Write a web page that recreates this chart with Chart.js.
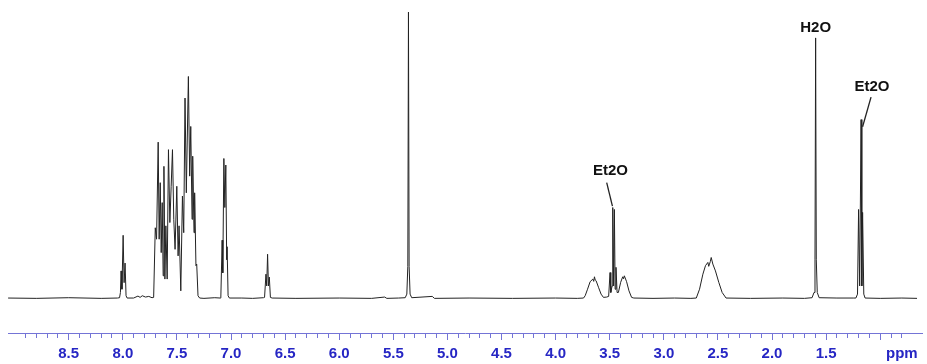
<!DOCTYPE html>
<html>
<head>
<meta charset="utf-8">
<script src="https://cdn.jsdelivr.net/npm/chart.js@4"></script>
<style>
  body { margin: 0; background: #fff; }
  #wrap { width: 927px; height: 364px; }
</style>
</head>
<body>
<div id="wrap"><canvas id="nmr-chart"></canvas></div>
<script>
// spectrum, [ppm, intensity] pairs, going from left to right
let aromatic = [
  [9.06, 0.3], [8.8, 0.2], [8.5, 0.4], [8.2, 0.2], [8.05, 0.3],
  [8.03, 0.4], [8.022, 2], [8.016, 8.6], [8.008, 3], [7.997, 19.5], [7.988, 5], [7.979, 11], [7.970, 1], [7.96, 0.3],
  [7.90, 0.3], [7.86, 0.9], [7.84, 0.5], [7.82, 1.0], [7.79, 0.6], [7.76, 0.8], [7.73, 0.4],
  [7.715, 0.5], [7.700, 21.8], [7.688, 18.3], [7.673, 48.0], [7.664, 18.3], [7.654, 35.6], [7.645, 14.2],
  [7.636, 29.5], [7.627, 7.1], [7.620, 40.6], [7.611, 6.1], [7.602, 22.4], [7.590, 6.1], [7.578, 45.7],
  [7.565, 23.4], [7.553, 34.5], [7.541, 45.7], [7.529, 24.4], [7.517, 15.2], [7.501, 34.5], [7.489, 13.2],
  [7.480, 22.4], [7.464, 2.5], [7.449, 31.5], [7.437, 20.3], [7.425, 61.5], [7.413, 32.5], [7.394, 68.1],
  [7.382, 37.6], [7.372, 52.8], [7.360, 24.4], [7.354, 43.7], [7.342, 20.3], [7.336, 32.5], [7.324, 10.2],
  [7.317, 10.7], [7.305, 1.0], [7.29, 0.3],
  [7.25, 0.2], [7.15, 0.4], [7.10, 0.3],
  [7.094, 0.5], [7.082, 18], [7.076, 8], [7.066, 43], [7.057, 28], [7.048, 41], [7.040, 12], [7.036, 16],
  [7.027, 1], [7.015, 0.3],
  [6.9, 0.3], [6.8, 0.2], [6.70, 0.4],
  [6.69, 0.5], [6.677, 7.6], [6.670, 4], [6.662, 13.7], [6.654, 4], [6.646, 6.7], [6.636, 0.5], [6.62, 0.3]
]

let middle = [
  [6.4, 0.2], [6.0, 0.3], [5.7, 0.2], [5.58, 0.6], [5.56, 0.2], [5.45, 0.3],
  [5.39, 0.4], [5.375, 1.5], [5.366, 10], [5.360, 87.8], [5.354, 10], [5.345, 1.5], [5.33, 0.4],
  [5.14, 0.8], [5.12, 0.2],
  [4.8, 0.3], [4.4, 0.2], [4.0, 0.3], [3.8, 0.2]
]

let ether = [
  [3.742, 0.3], [3.727, 1.0], [3.705, 3.0], [3.681, 5.3], [3.656, 6.1], [3.648, 5.4], [3.641, 6.8],
  [3.634, 5.8], [3.626, 5.6], [3.604, 3.6], [3.580, 1.5], [3.558, 0.5], [3.528, 0.6],
  [3.510, 0.8], [3.497, 8.1], [3.490, 2], [3.478, 4], [3.472, 28.0], [3.464, 4], [3.457, 27.4],
  [3.450, 3], [3.442, 9.7], [3.432, 2],
  [3.420, 2.0], [3.399, 5.1], [3.380, 6.8], [3.372, 6.2], [3.365, 7.1], [3.344, 5.3], [3.322, 2.5],
  [3.298, 0.5], [3.277, 0.3],
  [3.1, 0.2], [2.9, 0.3], [2.75, 0.2]
]

let aliphatic = [
  [2.700, 0.3], [2.670, 3.0], [2.639, 7.6], [2.615, 10.2], [2.593, 11.2], [2.585, 10.0], [2.578, 10.7],
  [2.570, 11.5], [2.562, 12.7], [2.547, 10.7], [2.523, 8.6], [2.492, 5.1], [2.461, 2.0], [2.425, 0.3],
  [2.2, 0.2], [1.9, 0.3], [1.7, 0.2],
  [1.63, 0.4], [1.612, 2], [1.603, 12], [1.597, 79.9], [1.591, 12], [1.582, 2], [1.565, 0.4],
  [1.4, 0.3], [1.25, 0.3],
  [1.225, 0.3], [1.210, 1.5], [1.200, 27.4], [1.190, 4], [1.177, 54.9], [1.170, 4], [1.163, 26.5],
  [1.152, 1.5], [1.14, 0.3],
  [1.0, 0.2], [0.8, 0.3], [0.66, 0.2]
]

// peak labels and their leader lines
let labelText = ["H2O", "Et2O", "Et2O"]
let labelPpm = [1.597, 1.076, 3.493]
let labelInt = [82.9, 64.8, 39.1]
let leaderFrom = [null, [1.085, 61.8], [3.528, 35.6]]
let leaderTo = [null, [1.163, 52.7], [3.475, 28.4]]

let ppmMin = 0.614
let ppmMax = 9.061

let spectrum = []
aromatic.concat(middle, ether, aliphatic).forEach(function(p){
  spectrum.push({x: p[0], y: p[1]})
})

function isStep(v, step){
  let q = v / step
  return Math.abs(q - Math.round(q)) < 1e-6
}

let peakLabels = {
  id: 'peakLabels',
  afterDatasetsDraw(chart){
    let ctx = chart.ctx
    let xs = chart.scales.x
    let ys = chart.scales.y
    ctx.save()
    ctx.fillStyle = '#111'
    ctx.strokeStyle = '#222'
    ctx.lineWidth = 1.3
    ctx.font = 'bold 15px "Liberation Sans", Arial, sans-serif'
    ctx.textAlign = 'center'
    ctx.textBaseline = 'middle'
    labelText.forEach(function(t, i){
      ctx.fillText(t, xs.getPixelForValue(labelPpm[i]), ys.getPixelForValue(labelInt[i]))
      if(leaderFrom[i]){
        ctx.beginPath()
        ctx.moveTo(xs.getPixelForValue(leaderFrom[i][0]), ys.getPixelForValue(leaderFrom[i][1]))
        ctx.lineTo(xs.getPixelForValue(leaderTo[i][0]), ys.getPixelForValue(leaderTo[i][1]))
        ctx.stroke()
      }
    })
    ctx.restore()
  }
}

let axisBlue = '#7474d6'

new Chart(document.getElementById("nmr-chart"), {
  type: 'line',
  data: {
    datasets: [{
      data: spectrum,
      borderColor: '#222',
      borderWidth: 1,
      pointRadius: 0,
      tension: 0,
      fill: false
    }]
  },
  options: {
    responsive: true,
    maintainAspectRatio: false,
    animation: false,
    layout: { padding: { left: 8, right: 0, top: 0, bottom: -4 } },
    plugins: { legend: { display: false }, tooltip: { enabled: false } },
    scales: {
      x: {
        type: 'linear',
        reverse: true,
        min: ppmMin,
        max: ppmMax,
        border: { color: axisBlue, width: 1 },
        grid: {
          drawOnChartArea: false,
          drawTicks: true,
          tickLength: 7,
          tickWidth: 1,
          tickColor: function(c){
            if(!c.tick || !isStep(c.tick.value, 0.1)) return 'rgba(0,0,0,0)'
            return axisBlue
          },
          tickBorderDash: function(c){
            if(c.tick && isStep(c.tick.value, 0.5)) return []
            return [4, 100]
          }
        },
        ticks: {
          stepSize: 0.1,
          autoSkip: false,
          maxRotation: 0,
          minRotation: 0,
          padding: 5,
          color: '#2626c4',
          font: { family: '"Liberation Sans", Arial, sans-serif', size: 15, weight: 'bold' },
          callback: function(v){
            let r = Math.round(v * 10) / 10
            if(Math.abs(r - 0.8) < 1e-6) return 'ppm'
            if(r >= 1.5 && r <= 8.5 && isStep(r, 0.5)) return r.toFixed(1)
            return ''
          }
        }
      },
      y: {
        display: false,
        min: -10.4,
        max: 91.5
      }
    }
  },
  plugins: [peakLabels]
});
</script>
</body>
</html>
